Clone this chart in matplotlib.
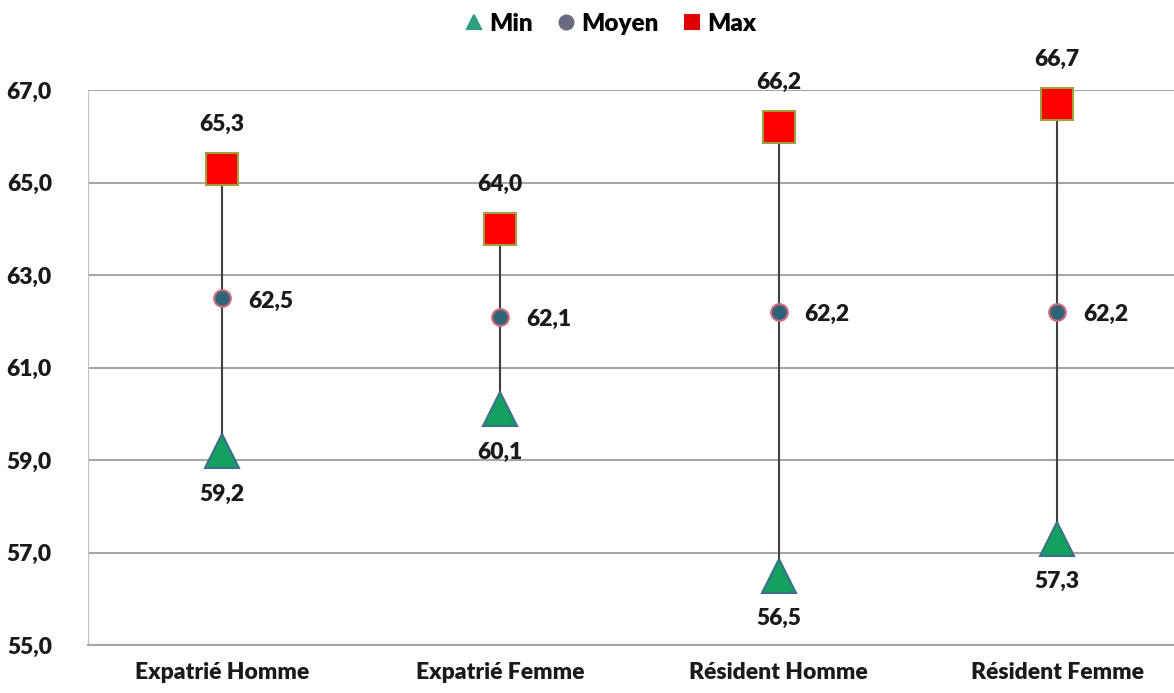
import numpy as np
import matplotlib.pyplot as plt

plt.rcParams['font.family'] = ['Lato', 'DejaVu Sans']

categories = ['Expatrié Homme', 'Expatrié Femme', 'Résident Homme', 'Résident Femme']
v_min = [59.2, 60.1, 56.5, 57.3]
v_moy = [62.5, 62.1, 62.2, 62.2]
v_max = [65.3, 64.0, 66.2, 66.7]
yticks = [55, 57, 59, 61, 63, 65, 67]

def fr(v):
    return ('%.1f' % v).replace('.', ',')

fig = plt.figure(figsize=(11.74, 6.93), dpi=100)
ax = fig.add_axes([0.075, 0.069, 0.925, 0.801])
x = np.arange(len(categories))

ax.vlines(x, v_min, v_max, color='#404040', lw=1.5, zorder=2)
ax.plot(x, v_min, ls='none', marker='^', ms=25, mfc='#13a060', mec='#3d6f8a', mew=1.5,
        label='Min', zorder=3, clip_on=False)
ax.plot(x, v_moy, ls='none', marker='o', ms=12, mfc='#2f6478', mec='#d06a7a', mew=1.5,
        label='Moyen', zorder=3)
ax.plot(x, v_max, ls='none', marker='s', ms=23, mfc='#ff0000', mec='#a0a040', mew=1.5,
        label='Max', zorder=3, clip_on=False)

tk = dict(fontsize=16.5, fontweight='heavy', color='#1a1a1a')
for i in range(len(categories)):
    ax.annotate(fr(v_max[i]), (x[i], v_max[i]), xytext=(0, 32), textcoords='offset points',
                ha='center', va='center', **tk)
    ax.annotate(fr(v_min[i]), (x[i], v_min[i]), xytext=(0, -31), textcoords='offset points',
                ha='center', va='center', **tk)
    ax.annotate(fr(v_moy[i]), (x[i], v_moy[i]), xytext=(35, -2), textcoords='offset points',
                ha='center', va='center', **tk)

ax.set_xlim(-0.48, 3.42)
ax.set_ylim(55, 67)
ax.set_yticks(yticks)
ax.set_yticklabels([fr(v) for v in yticks], **tk)
ax.set_xticks(x)
ax.set_xticklabels(categories, **tk)
ax.tick_params(length=0)
ax.tick_params(axis='y', pad=26)
ax.tick_params(axis='x', pad=12)
ax.grid(axis='y', color='#a6a6a6', lw=1.5, zorder=0)
for s in ['top', 'right']:
    ax.spines[s].set_visible(False)
ax.spines['left'].set_color('#c0c0c0')
ax.spines['bottom'].set_color('#a6a6a6')
ax.spines['bottom'].set_linewidth(1.5)

h, l = ax.get_legend_handles_labels()
leg = fig.legend(h, l, loc='center', bbox_to_anchor=(0.521, 0.966), ncol=3, frameon=False,
                 prop={'weight': 'heavy', 'size': 17.5}, handlelength=0.55, handletextpad=0.35,
                 columnspacing=1.1)
for hd, c in zip(leg.legend_handles, ['#2e9e80', '#6a6a80', '#e00000']):
    hd.set_markerfacecolor(c)
    hd.set_markeredgecolor(c)
    hd.set_markersize(10)

fig.savefig('out.png', dpi=100)
